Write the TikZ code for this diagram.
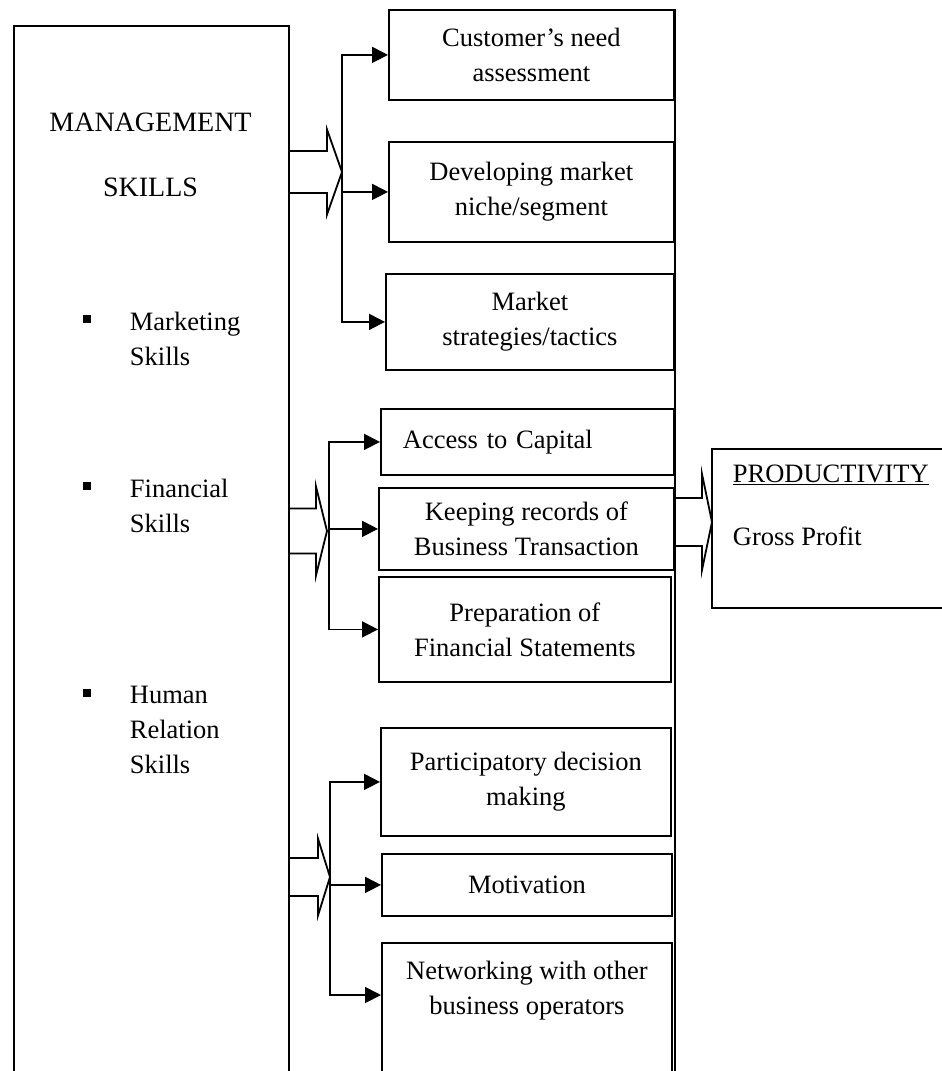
\documentclass[tikz,border=0pt]{standalone}
\usepackage{fontspec}
\setmainfont{Liberation Serif}
\usetikzlibrary{positioning,arrows.meta,calc}

\begin{document}
\begin{tikzpicture}[
    x=1pt, y=-1pt,
    font=\fontsize{26.5}{35}\selectfont,
    line width=1.8pt,
    box/.style={
        draw,
        anchor=north west,
        inner sep=0pt,
        align=center
    },
    txt/.style={inner sep=0pt, align=left},
    bullet/.style={fill, inner sep=0pt, minimum size=7.5pt},
    link/.style={-{Triangle[length=16pt,width=16pt]}},
    pics/fatarrow/.style n args={4}{code={
        \draw (0,#2) -- (#1,#2) -- (#1,#3) -- (#1+#4,0)
              -- (#1,-#3) -- (#1,-#2) -- (0,-#2);
    }}
]
\useasboundingbox (0,0) rectangle (942,1071);

% ============================================================
% left column: management skills
% ============================================================
\node[box, minimum width=275, minimum height=1070] (mgmt) at (13,25) {};
\node[txt, align=center, anchor=north, font=\fontsize{28}{35}\selectfont]
    (title) at (150.5,112) {MANAGEMENT\\[30pt]SKILLS};

\node[bullet] (b1) at (87,319) {};
\node[txt, anchor=north west] (mkt) at (129,311) {Marketing\\Skills};
\node[bullet] (b2) at (87,486) {};
\node[txt, anchor=north west] (fnc) at (129,478) {Financial\\Skills};
\node[bullet] (b3) at (87,693) {};
\node[txt, anchor=north west] (hrs) at (129,685) {Human\\Relation\\Skills};

% ============================================================
% marketing group
% ============================================================
\node[box, minimum width=285, minimum height=90]  (cust)  at (388,9)   {Customer’s need\\assessment};
\node[box, minimum width=285, minimum height=100] (dev)   at (388,141) {Developing market\\niche/segment};
\node[box, minimum width=288, minimum height=96]  (strat) at (385,273) {Market\\strategies/tactics};

\pic at (288,172) {fatarrow={39}{21}{42.5}{15}};
\coordinate (mk) at (342,172);
\draw[link] (mk) |- (cust.west);
\draw[link] (mk |- dev.west) -- (dev.west);
\draw[link] (mk) |- (strat.west);

% ============================================================
% financial group
% ============================================================
\node[box, minimum width=293, minimum height=66, align=left, text width=249pt]
    (cap)  at (380,408) {Access to Capital};
\node[box, minimum width=295, minimum height=82]  (rec)  at (378,487) {Keeping records of\\Business Transaction};
\node[box, minimum width=292, minimum height=105] (prep) at (378,576) {Preparation of\\Financial Statements};

\pic at (288,531) {fatarrow={28}{22.5}{44.5}{11}};
\coordinate (fin) at (329,531);
\draw[link] (fin) |- (cap.west);
\draw[link] (fin |- rec.west) -- (rec.west);
\draw[link] (fin) |- (prep.west);

% ============================================================
% human relation group
% ============================================================
\node[box, minimum width=290, minimum height=108] (part)   at (380,727) {Participatory decision\\making};
\node[box, minimum width=290, minimum height=62]  (motiv)  at (381,853) {Motivation};
\node[box, minimum width=290, minimum height=200] (netbox) at (381,942) {};
\node[txt, align=center, anchor=north] (net) at ($(netbox.north)+(0,18)$)
    {Networking with other\\business operators};

\pic at (288,877) {fatarrow={30}{19}{38.5}{12}};
\coordinate (hum) at (330,877);
\coordinate (netin) at ($(netbox.north west)+(0,53)$);
\draw[link] (hum) |- (part.west);
\draw[link] (hum |- motiv.west) -- (motiv.west);
\draw[link] (hum) |- (netin);

% right rail
\draw (cust.north east) -- (cust.north east |- 0,1071);

% ============================================================
% productivity
% ============================================================
\node[box, minimum width=260, minimum height=159] (prod) at (711,448) {};
\node[txt, anchor=north west] (prodtxt) at (732,464)
    {\underline{PRODUCTIVITY}\\[28pt]Gross Profit};
\pic at (673,522) {fatarrow={29}{24}{48}{10}};

\end{tikzpicture}
\end{document}
